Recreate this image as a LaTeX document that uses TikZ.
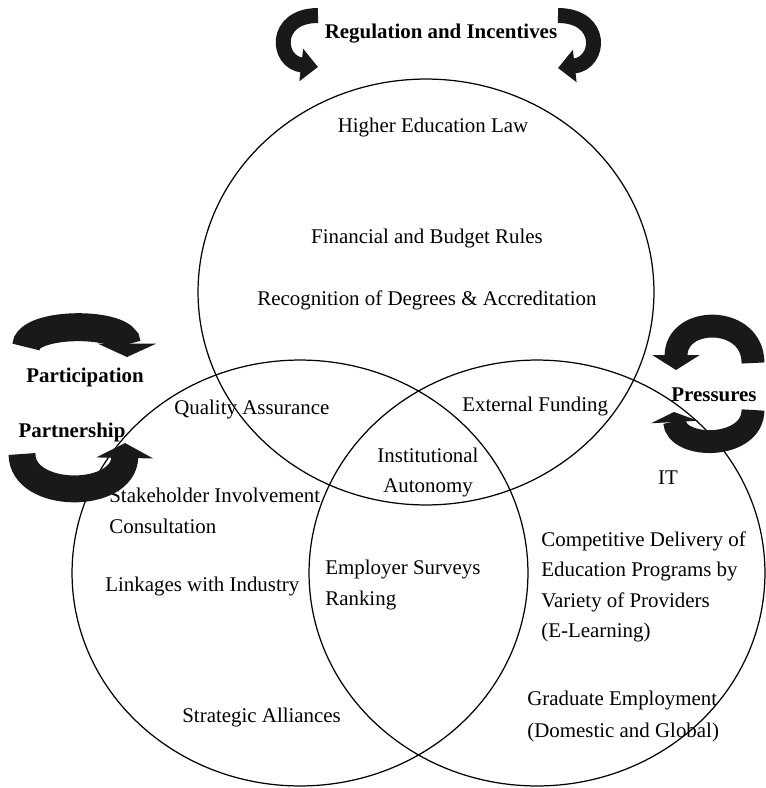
\documentclass[tikz,border=0pt]{standalone}
\usepackage{fontspec}
\setmainfont{Liberation Serif}
\usetikzlibrary{arrows.meta}

\begin{document}
\begin{tikzpicture}[x=0.02cm, y=-0.02cm,
    txt/.style={inner sep=0pt, font=\fontsize{11.9}{14}\selectfont},
    hd/.style={inner sep=0pt, font=\fontsize{11.9}{14}\selectfont\bfseries},
    ring/.style={line width=0.7pt},
    swoosh/.style n args={3}{draw=black!90, line width=#1, -{Triangle[length=#2, width=#3]}}]
    \useasboundingbox (0,0) rectangle (765,788);

    % Circles
    \coordinate (ctop) at (426,292);
    \coordinate (cleft) at (300,573);
    \coordinate (cright) at (537,573);
    \draw[ring] (ctop) ellipse [x radius=4.56cm, y radius=4.26cm];
    \draw[ring] (cleft) ellipse [x radius=4.56cm, y radius=4.26cm];
    \draw[ring] (cright) ellipse [x radius=4.56cm, y radius=4.26cm];

    % Top circle
    \node[txt, anchor=base] (law) at (433,132) {Higher Education Law};
    \node[txt, anchor=base] (budget) at (427,243) {Financial and Budget Rules};
    \node[txt, anchor=base] (degrees) at (427,305) {Recognition of Degrees \& Accreditation};
    \node[txt, anchor=base west] (qa) at (174,414) {Quality Assurance};
    \node[txt, anchor=base west] (funding) at (462,411) {External Funding};
    \node[txt, anchor=base] (inst) at (428,462) {Institutional};
    \node[txt, anchor=base] (auton) at (428,492) {Autonomy};

    % Left circle
    \node[txt, anchor=base west] (stake) at (109,502) {Stakeholder Involvement};
    \node[txt, anchor=base west] (consult) at (109,533) {Consultation};
    \node[txt, anchor=base west] (links) at (105,591) {Linkages with Industry};
    \node[txt, anchor=base west] (alliance) at (182,722) {Strategic Alliances};
    \node[txt, anchor=base west] (survey) at (325,574) {Employer Surveys};
    \node[txt, anchor=base west] (rank) at (325,605) {Ranking};

    % Right circle
    \node[txt, anchor=base] (it) at (668,484) {IT};
    \foreach \t [count=\i] in {Competitive Delivery of, Education Programs by,
                               Variety of Providers, (E-Learning)}
        \node[txt, anchor=base west] (comp\i) at (541,515.5+30.5*\i) {\t};
    \node[txt, anchor=base west] (grad) at (527,705) {Graduate Employment};
    \node[txt, anchor=base west] (dom) at (527,737) {(Domestic and Global)};

    % Forces acting on the circles
    \node[hd, anchor=base] (reg) at (441,38) {Regulation and Incentives};
    \node[hd, anchor=base] (partic) at (85,382) {Participation};
    \node[hd, anchor=base] (partner) at (72,437) {Partnership};
    \node[hd, anchor=base] (press) at (714,401) {Pressures};

    \draw[swoosh={8.5pt}{9.6pt}{18pt}] (318,15.5) .. controls (273,15.5) and (276,62) .. (318,67);
    \draw[swoosh={8.5pt}{9.6pt}{18pt}] (558,15.5) .. controls (604,15.5) and (601,63) .. (558,68);
    \draw[swoosh={15.9pt}{7.6pt}{33pt}] (26,347) .. controls (26,321) and (127,321) .. (127,357);
    \draw[swoosh={15.3pt}{8.5pt}{32pt}] (22,454) .. controls (22,500) and (124,500) .. (125,443);
    \draw[swoosh={13pt}{8.5pt}{26.6pt}] (753,363) .. controls (753,315) and (676,315) .. (676,370);
    \draw[swoosh={13pt}{5.7pt}{26.6pt}] (753,410) .. controls (753,450) and (676,450) .. (674,412);
\end{tikzpicture}
\end{document}
